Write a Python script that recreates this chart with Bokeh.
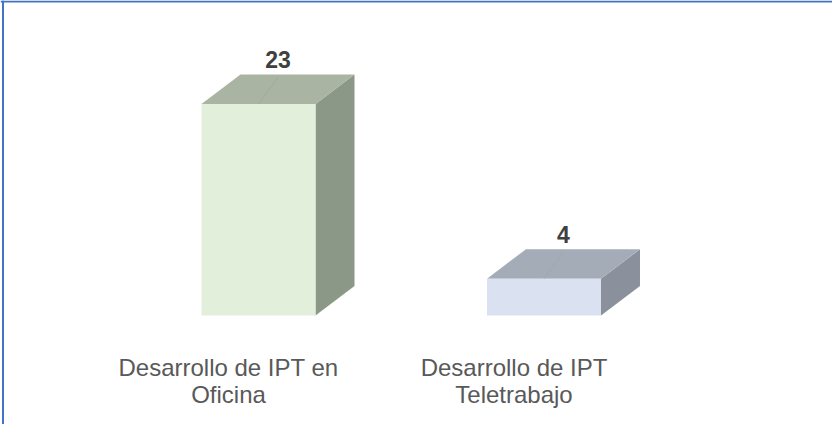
from bokeh.plotting import figure
from bokeh.models import Range1d, Span, ColumnDataSource
from bokeh.embed import file_html
from bokeh.resources import INLINE
from bokeh.core.properties import value

# ---- data ----
categories = ["Desarrollo de IPT en\nOficina", "Desarrollo de IPT\nTeletrabajo"]
values = [23, 4]
front_colors = ["#e2efda", "#dae1f1"]
top_colors = ["#a9b4a3", "#a4acb8"]
side_colors = ["#8b9887", "#8a909c"]

# ---- layout ----
W, H = 832, 424
px_x = 285.5   # pixels per category step
px_y = 9.2     # pixels per value unit
x0 = -258 / px_x
y0 = -109 / px_y

p = figure(width=W, height=H,
           x_range=Range1d(x0, x0 + W / px_x),
           y_range=Range1d(y0, y0 + H / px_y),
           output_backend="svg", toolbar_location=None,
           x_axis_location=None, y_axis_location=None,
           min_border=0)
p.grid.visible = False
p.outline_line_color = None
p.background_fill_color = "white"
p.border_fill_color = "white"

bw = 114 / px_x
dx = 39 / px_x
dy = 29.5 / px_y

front = dict(left=[], right=[], top=[], bottom=[], color=[])
tops = dict(xs=[], ys=[], color=[])
sides = dict(xs=[], ys=[], color=[])
for i, v in enumerate(values):
    xl, xr = i - bw / 2, i + bw / 2
    front["left"].append(xl); front["right"].append(xr)
    front["top"].append(v); front["bottom"].append(0)
    front["color"].append(front_colors[i])
    tops["xs"].append([xl, xr, xr + dx, xl + dx])
    tops["ys"].append([v, v, v + dy, v + dy])
    tops["color"].append(top_colors[i])
    sides["xs"].append([xr, xr + dx, xr + dx, xr])
    sides["ys"].append([0, dy, v + dy, v])
    sides["color"].append(side_colors[i])

p.patches(xs="xs", ys="ys", fill_color="color", line_color=None,
          source=ColumnDataSource(sides))
p.patches(xs="xs", ys="ys", fill_color="color", line_color=None,
          source=ColumnDataSource(tops))
p.quad(left="left", right="right", top="top", bottom="bottom",
       fill_color="color", line_color=None, source=ColumnDataSource(front))

# leader lines on the top faces
idx = list(range(len(values)))
p.segment(x0=idx, y0=values,
          x1=[i + dx * 0.5 for i in idx], y1=[v + dy * 0.9 for v in values],
          line_color="#a6a6a6", line_width=1)

# value labels
p.text(x=[i + dx / 2 for i in idx], y=[v + dy for v in values],
       text=[str(v) for v in values], text_align="center",
       text_baseline="bottom", y_offset=-6,
       text_font=value("Liberation Sans"), text_font_style="bold",
       text_font_size="23px", text_color="#404040")

# category labels (two lines each)
lab_dx = -30 / px_x
for line_no, off in enumerate([-52, -79]):
    lines = [c.split("\n")[line_no] for c in categories]
    p.text(x=[i + lab_dx for i in idx], y=[off / px_y] * len(idx),
           text=lines, text_align="center", text_baseline="middle",
           text_font=value("Liberation Sans"), text_font_size="24px",
           text_color="#595959")

# chart frame (top and left edges visible)
p.add_layout(Span(location=x0 + 2.5 / px_x, dimension="height",
                  line_color="#4472c4", line_width=2))
p.add_layout(Span(location=y0 + (H - 1) / px_y, dimension="width",
                  line_color="#4472c4", line_width=2))

open("out.html", "w").write(file_html(p, INLINE))
